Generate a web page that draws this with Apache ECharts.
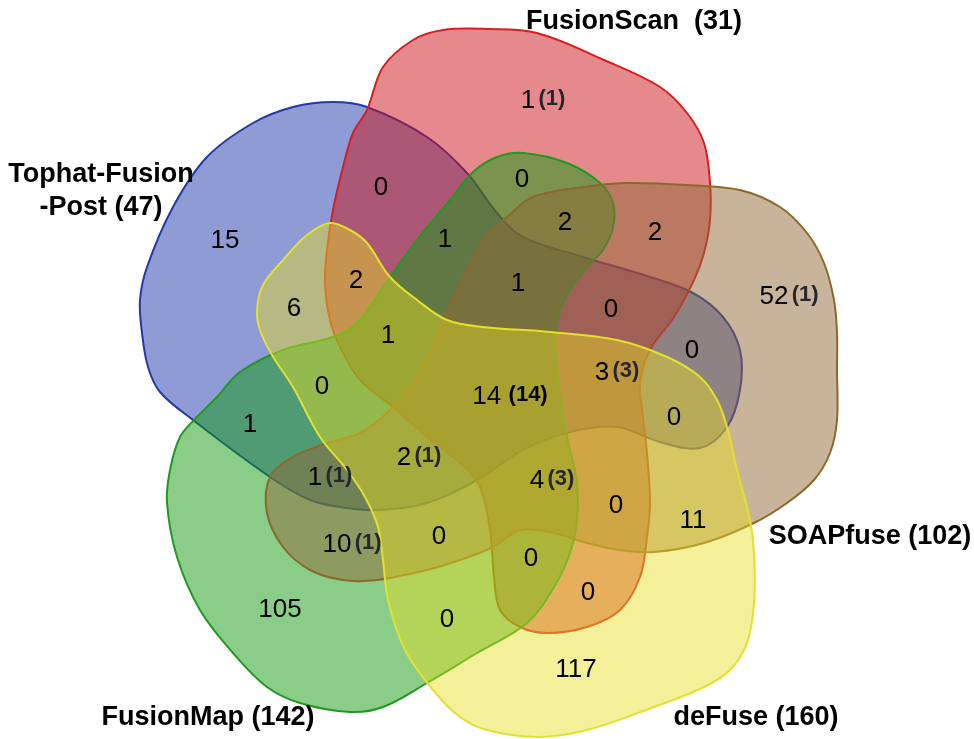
<!DOCTYPE html>
<html>
<head>
<meta charset="utf-8">
<script src="https://cdn.jsdelivr.net/npm/echarts@6/dist/echarts.min.js"></script>
<style>
  html, body { margin: 0; padding: 0; background: #fff; }
  #chart { width: 974px; height: 739px; }
</style>
</head>
<body>
<div id="chart"></div>
<script>
// set names and totals
const setNames = ['Tophat-Fusion\n-Post', 'FusionScan ', 'FusionMap', 'SOAPfuse', 'deFuse'];
const setTotals = [47, 31, 142, 102, 160];

// region counts (31 regions of the 5-set venn), and the bracketed sub counts
const regionCounts = [1, 15, 0, 0, 2, 2, 1, 2, 6, 1, 1, 0, 52, 0, 0, 14, 3, 0, 1, 2, 1, 4, 0, 11, 10, 0, 0, 0, 105, 0, 117];
const regionNotes = ['(1)', '', '', '', '', '', '', '', '', '', '', '', '(1)', '', '', '(14)', '(3)', '', '', '(1)', '(1)', '(3)', '', '', '(1)', '', '', '', '', '', ''];

// where each region label sits (pixel space of the drawing)
const regionPos = [[543, 101], [225, 241], [381, 188], [522, 180], [565, 223], [655, 233], [445, 240], [356, 281], [294, 309], [518, 284], [388, 336], [611, 310], [789, 297], [692, 351], [322, 387], [510, 397], [617, 373], [674, 418], [250, 425], [419, 458], [330, 478], [552, 481], [616, 506], [693, 521], [352, 545], [439, 537], [531, 559], [588, 593], [280, 610], [447, 620], [576, 670]];
const namePos = [[101, 191], [634, 22], [208, 718], [870, 537], [756, 718]];

// outlines of the five blobs
const outlines = [
  [[333,102],[367,107],[427,137],[467,173],[497,213],[523,237],[583,257],[650,277],[693,293],[723,317],[740,350],[740,390],[727,427],[700,448],[660,442],[617,427],[570,432],[523,450],[477,480],[427,503],[377,510],[347,508],[310,500],[270,477],[193,420],[160,392],[148,367],[142,333],[140,300],[147,267],[173,207],[207,157],[253,123],[293,107]],
  [[367,110],[383,67],[413,40],[443,30],[487,29],[537,33],[604,60],[660,87],[687,113],[704,143],[710,183],[710,220],[704,253],[694,280],[674,317],[650,350],[640,383],[643,417],[647,453],[650,503],[647,537],[640,577],[620,610],[587,627],[547,633],[520,627],[500,610],[494,577],[490,530],[480,487],[460,463],[427,437],[393,407],[360,380],[340,347],[330,320],[325,283],[327,250],[333,210],[343,167],[353,133]],
  [[497,157],[523,153],[567,163],[600,183],[613,203],[613,227],[603,250],[587,267],[570,290],[560,310],[555,337],[557,367],[563,417],[570,450],[577,483],[577,520],[570,553],[554,587],[527,623],[477,653],[427,683],[383,707],[350,712],[300,703],[267,687],[233,653],[200,610],[177,557],[167,503],[170,470],[180,437],[197,417],[217,397],[240,372],[283,350],[333,337],[357,323],[390,277],[417,240],[450,200],[473,172]],
  [[270,477],[293,457],[327,443],[360,433],[393,407],[423,367],[443,320],[463,277],[483,240],[507,217],[533,197],[583,187],[627,183],[687,185],[740,190],[780,207],[807,233],[824,263],[834,300],[837,333],[837,370],[837,420],[830,453],[814,480],[787,503],[754,523],[704,543],[654,552],[620,550],[587,543],[554,533],[520,530],[493,547],[460,560],[427,570],[377,580],[343,580],[310,570],[283,547],[267,513]],
  [[330,223],[350,230],[367,243],[390,277],[417,300],[447,320],[483,327],[550,332],[617,340],[667,357],[700,377],[717,400],[727,427],[737,470],[750,520],[754,553],[754,603],[747,643],[730,670],[704,687],[654,707],[587,730],[537,737],[487,730],[460,717],[433,690],[405,650],[388,600],[383,560],[378,527],[365,497],[347,470],[320,437],[293,387],[272,355],[260,330],[257,310],[263,285],[283,260],[307,235]]
];
const fills = ['rgba(30,55,170,0.5)', 'rgba(205,20,25,0.5)', 'rgba(20,155,20,0.5)', 'rgba(145,105,55,0.5)', 'rgba(230,222,30,0.45)'];
const strokes = ['#2438a8', '#d42020', '#1f9a1f', '#8a6a2a', '#e2e030'];

const chart = echarts.init(document.getElementById('chart'));

const blobSeries = outlines.map((pts, i) => ({
  type: 'custom',
  name: setNames[i],
  z: 1 + i,
  silent: true,
  data: [[0, 0]],
  renderItem: (params, api) => ({
    type: 'polygon',
    shape: { points: pts.map(p => api.coord(p)), smooth: 0.35 },
    style: { fill: fills[i], stroke: strokes[i], lineWidth: 2 }
  })
}));

const option = {
  animation: false,
  grid: { left: 0, right: 0, top: 0, bottom: 0 },
  xAxis: { type: 'value', min: 0, max: 974, show: false },
  yAxis: { type: 'value', min: 0, max: 739, inverse: true, show: false },
  series: [
    ...blobSeries,
    {
      type: 'scatter',
      z: 10,
      symbolSize: 0,
      silent: true,
      itemStyle: { opacity: 1 },
      data: regionCounts.map((c, i) => ({ value: regionPos[i] })),
      label: {
        show: true,
        position: 'inside',
        opacity: 1,
        textBorderWidth: 0,
        formatter: p => {
          const i = p.dataIndex;
          if (!regionNotes[i]) return '{n|' + regionCounts[i] + '}';
          const style = regionNotes[i] === '(14)' ? 'b' : 'p';
          return '{n|' + regionCounts[i] + '} {' + style + '|' + regionNotes[i] + '}';
        },
        rich: {
          n: { fontFamily: 'Liberation Sans', fontSize: 26, color: '#000', textBorderWidth: 0 },
          p: { fontFamily: 'Liberation Sans', fontSize: 22, fontWeight: 'bold', color: '#26262e', textBorderWidth: 0, padding: [0, 0, 4, 0] },
          b: { fontFamily: 'Liberation Sans', fontSize: 22, fontWeight: 'bold', color: '#000', textBorderWidth: 0, padding: [0, 0, 4, 4] }
        }
      }
    },
    {
      type: 'scatter',
      z: 10,
      symbolSize: 0,
      silent: true,
      itemStyle: { opacity: 1 },
      data: setNames.map((n, i) => ({ value: namePos[i] })),
      label: {
        show: true,
        position: 'inside',
        opacity: 1,
        formatter: p => setNames[p.dataIndex] + ' (' + setTotals[p.dataIndex] + ')',
        fontFamily: 'Liberation Sans',
        fontSize: 27,
        fontWeight: 'bold',
        color: '#000',
        textBorderWidth: 0,
        lineHeight: 33,
        align: 'center'
      }
    }
  ]
};
chart.setOption(option);
</script>
</body>
</html>
